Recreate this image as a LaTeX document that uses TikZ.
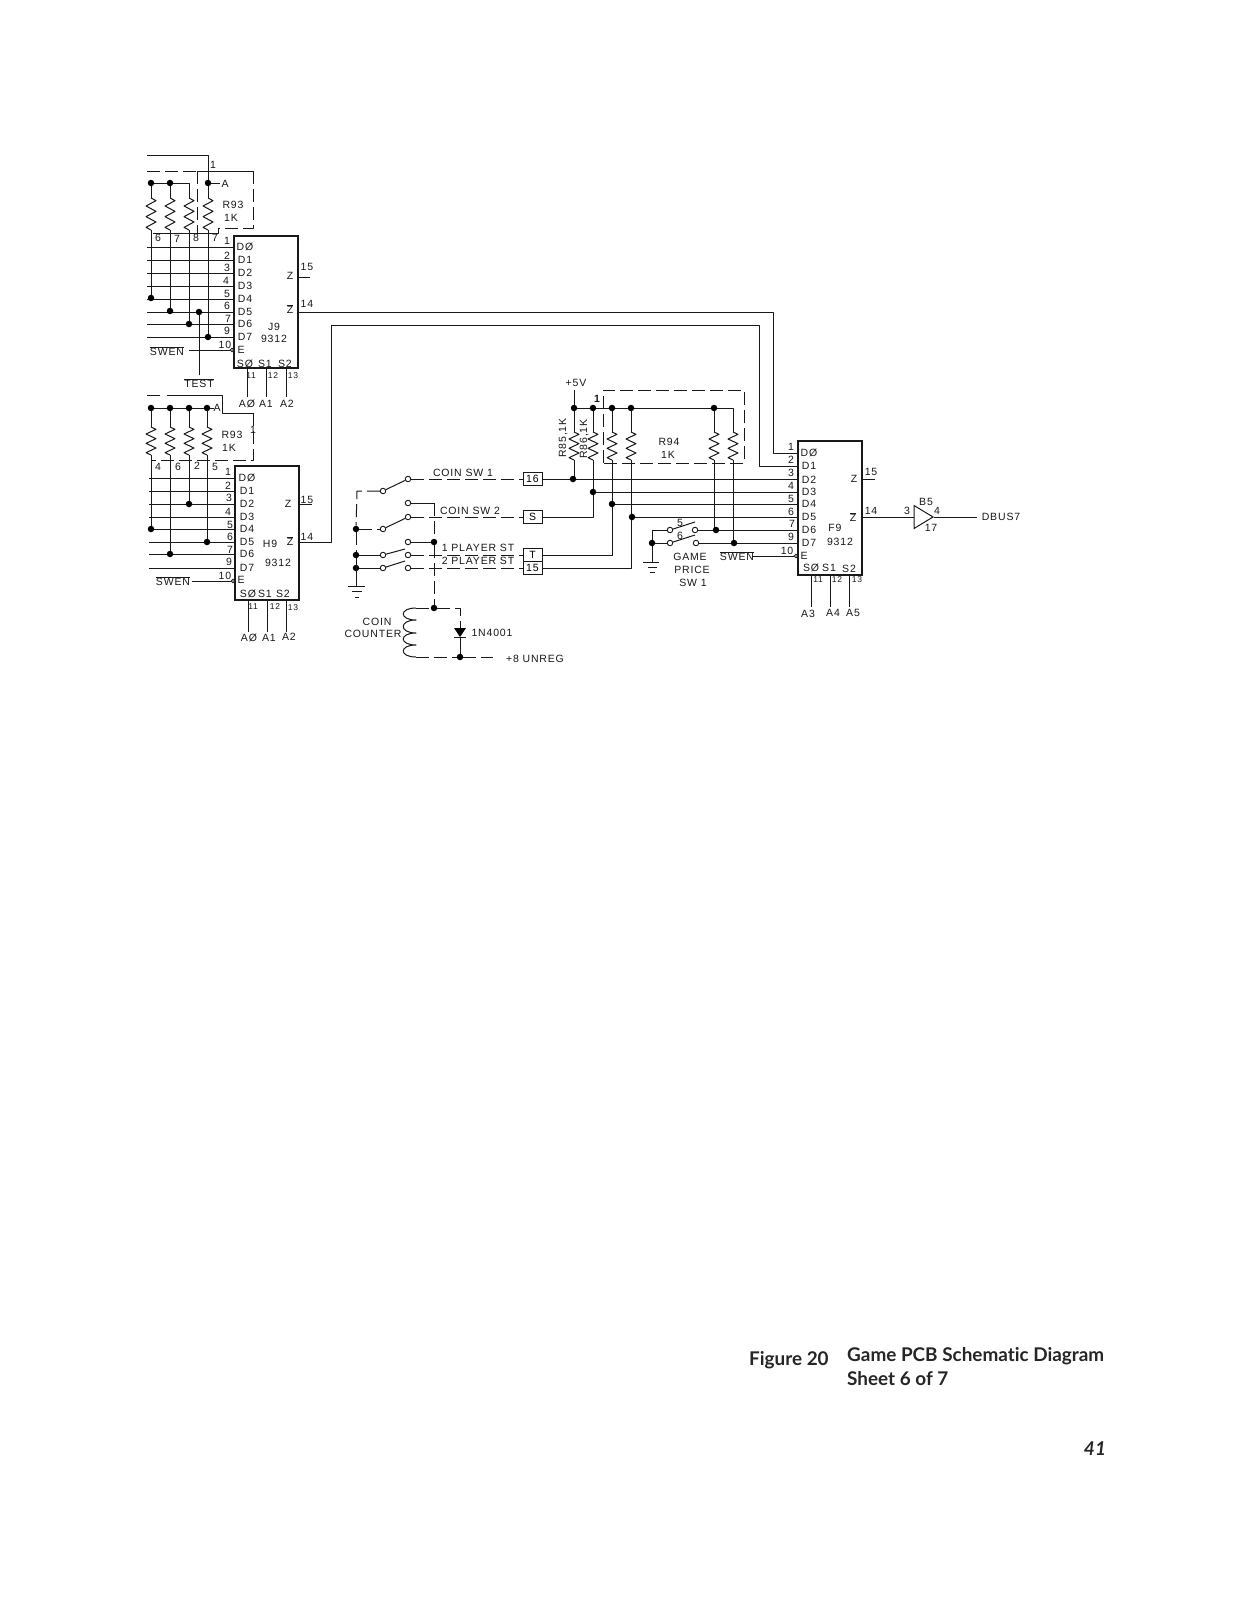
\documentclass[tikz,border=0pt]{standalone}
\usepackage{fontspec}
\usetikzlibrary{shapes.geometric}
\setmainfont[LetterSpace=8]{Liberation Sans}
\newfontfamily\capfont[Ligatures=NoCommon]{Lato}
\newcommand{\barred}[1]{$\overline{\hbox{#1}}$}
\newcommand{\zigres}[3]{%
  \pgfmathsetmacro{\hh}{(#3-#2)/12}%
  \draw[wire] (#1,#2) -- ++(5,\hh) -- ++(-10,2*\hh) -- ++(10,2*\hh) -- ++(-10,2*\hh) -- ++(10,2*\hh) -- ++(-10,2*\hh) -- ++(5,\hh);}
\tikzset{
  wire/.style={line width=1pt,draw=black!90,line join=round},
  dashw/.style={wire,dash pattern=on 13pt off 5pt},
  chip/.style={draw=black!90,line width=1.1pt,rectangle,inner sep=0pt,fill=none},
  dot/.style={circle,fill=black,draw=none,minimum size=6.5pt,inner sep=0pt},
  cont/.style={circle,draw=black!90,line width=.9pt,fill=white,minimum size=5.5pt,inner sep=0pt},
  bubble/.style={circle,draw=black!90,line width=.8pt,fill=white,minimum size=3.5pt,inner sep=0pt},
  tag/.style={draw=black!90,line width=1pt,rectangle,inner sep=0pt,minimum width=19pt,minimum height=13pt,font=\fontsize{10.5}{10}\selectfont},
  lab/.style={inner sep=0pt,font=\fontsize{10.5}{10}\selectfont,text=black!90},
  sml/.style={lab,font=\fontsize{8.5}{8}\selectfont},
  capt/.style={inner sep=0pt,anchor=base west,font=\capfont\bfseries\fontsize{18.9}{20}\selectfont,text=black!85},
}
\begin{document}
\begin{tikzpicture}[x=1pt,y=-1pt]
\useasboundingbox[fill=white] (0,0) rectangle (1237,1600);
% chips
\node[chip,minimum width=64pt,minimum height=132pt] (J9) at (266,302) {};
\node[chip,minimum width=64pt,minimum height=134pt] (H9) at (267,533) {};
\node[chip,minimum width=64pt,minimum height=134pt] (F9) at (830,508) {};
% J9 pins
\foreach \y in {247,260,273,286,299,312,324,337} \draw[wire] (147,\y) -- (J9.west |- 0,\y);
\node[bubble] (bJ) at (232,350) {};
\draw[wire] (189,350) -- (bJ);
\draw[wire] (J9.east |- 0,277) -- (310,277);
\foreach \x in {247,266,286} \draw[wire] (J9.south -| \x,0) -- (\x,397);
% H9 pins
\foreach \y in {478,491,504,517,529,542,554,568} \draw[wire] (149,\y) -- (H9.west |- 0,\y);
\node[bubble] (bH) at (233,581) {};
\draw[wire] (192,581) -- (bH);
\draw[wire] (H9.east |- 0,504) -- (312,504);
\foreach \x in {248,267,286} \draw[wire] (H9.south -| \x,0) -- (\x,632);
% F9 pins and links
\node[bubble] (bF) at (796,556) {};
\draw[wire] (752,556) -- (bF);
\draw[wire] (J9.east |- 0,312) -- (773,312) -- (773,453) -- (F9.west |- 0,453);
\draw[wire] (H9.east |- 0,542) -- (331,542) -- (331,325) -- (759,325) -- (759,466) -- (F9.west |- 0,466);
\draw[wire] (F9.east |- 0,479) -- (875,479);
\foreach \x in {811,830,849} \draw[wire] (F9.south -| \x,0) -- (\x,607);
% buffer
\node[draw=black!90,line width=1pt,fill=white,isosceles triangle,isosceles triangle stretches,inner sep=0pt,minimum height=19pt,minimum width=23pt] (B5) at (920.5,517) {};
\draw[wire] (F9.east |- 0,517) -- (B5.west);
\coordinate (bout) at (977,517);
\draw[wire] (B5.east) -- (bout);
% J9 resistor pack
\draw[wire] (147,155) -- (208,155) -- (208,198);
\draw[wire] (151,183) -- (189,183) -- (189,198);
\draw[wire] (151,183) -- (151,198) (170,183) -- (170,198);
\draw[wire] (208,183) -- (220,183);
\foreach \x in {151,170,189,208} \zigres{\x}{198}{230};
\draw[wire] (151,230) -- (151,298) (170,230) -- (170,311) (189,230) -- (189,324) (208,230) -- (208,337);
\draw[wire] (199,312) -- (199,375);
\draw[dashw] (147,171) -- (197,171);
\draw[wire] (197,171) -- (253,171);
\draw[dashw] (253,171) -- (253,228) -- (218,228);
\draw[wire] (218,228) -- (218,233) -- (153,233);
\draw[dashw] (197,171) -- (197,233);
% H9 resistor pack
\draw[dashw] (147,395) -- (165,395);
\draw[wire] (167,395) -- (222,395) -- (222,413) -- (253,413);
\draw[dashw] (253,413) -- (253,460) -- (152,460);
\draw[wire] (151,408) -- (214,408);
\foreach \x in {151,170,189,207} {\draw[wire] (\x,408) -- (\x,427); \zigres{\x}{427}{455};}
\draw[wire] (151,455) -- (151,529) (170,455) -- (170,554) (189,455) -- (189,504) (207,455) -- (207,542);
% switches
\node[cont] (s1a) at (408,479) {};
\node[cont] (s1p) at (383,491) {};
\node[cont] (s2a) at (408,503) {};
\node[cont] (s2b) at (408,517) {};
\node[cont] (s2p) at (383,529) {};
\node[cont] (s3a) at (408,542) {};
\node[cont] (s3b) at (408,555) {};
\node[cont] (s3c) at (408,568) {};
\node[cont] (s3p) at (383,555) {};
\node[cont] (s4p) at (383,568) {};
\node[tag] (t16) at (532.5,479) {16};
\node[tag] (tS) at (532.5,517) {S};
\node[tag] (tT) at (532.5,555) {T};
\node[tag] (t15) at (532.5,568) {15};
\node[dot] (gnd) at (356,529) {};
\node[dot] (g2) at (356,555) {};
\node[dot] (g3) at (356,568) {};
\node[dot] (cnA) at (434,542) {};
\node[dot] (cnB) at (434,608) {};
\node[dot] (cnC) at (460,657) {};
\draw[wire] (s1p) -- (s1a);
\draw[wire] (s2p) -- (s2b);
\draw[wire] (s3p) -- (405,549);
\draw[wire] (s4p) -- (405,561);
\draw[dashw] (s1a) -- (t16);
\draw[dashw] (s1p) -- (357,491) -- (gnd);
\draw[dashw] (gnd) -- (s2p);
\draw[dashw] (gnd) -- (g2);
\draw[wire] (g2) -- (s3p);
\draw[wire] (g3) -- (s4p);
\draw[wire] (g2) -- (356,586);
\draw[wire] (s2a) -- (434,503);
\draw[dashw] (434,503) -- (cnA);
\draw[wire] (s3a) -- (cnA);
\draw[dashw] (cnA) -- (cnB);
\draw[dashw] (s2b) -- (tS);
\draw[dashw] (s3b) -- (tT);
\draw[dashw] (s3c) -- (t15);
\draw[wire] (348,586) -- (365,586) (352,591) -- (362,591) (355,597) -- (359,597);
% coin counter
\draw[wire] (416,608) .. controls (399,608) and (399,620) .. (416,620)
  .. controls (399,620) and (399,633) .. (416,633)
  .. controls (399,633) and (399,645) .. (416,645)
  .. controls (399,645) and (399,657) .. (416,657);
\draw[dashw] (416,608) -- (cnB);
\draw[dashw] (cnB) -- (460,608) -- (460,628);
\fill[black] (454,628) -- (466,628) -- (460,637) -- cycle;
\draw[wire] (454,637) -- (466,637) (460,637) -- (cnC);
\draw[dashw] (416,657) -- (cnC);
\draw[dashw] (cnC) -- (493,657);
% +5V pack
\draw[wire] (574,390) -- (574,408) -- (733,408) -- (733,432);
\foreach \x in {574,593,612,631,714} \draw[wire] (\x,408) -- (\x,432);
\foreach \x in {574,593,612,631,714,733} \zigres{\x}{432}{460};
\draw[wire] (574,460) -- (574,479);
\draw[wire] (593,460) -- (593,517) -- (tS);
\draw[wire] (612,460) -- (612,555) -- (tT);
\draw[wire] (631,460) -- (631,568) -- (t15);
\draw[wire] (714,460) -- (714,529) (733,460) -- (733,543);
\draw[dashw] (603,463) -- (603,390) -- (744,390) -- (744,463) -- (603,463);
% buses into F9
\draw[wire] (t16) -- (F9.west |- 0,479);
\draw[wire] (593,492) -- (F9.west |- 0,492);
\draw[wire] (612,504) -- (F9.west |- 0,504);
\draw[wire] (631,517) -- (F9.west |- 0,517);
% game price switch
\node[cont] (p1) at (670,530) {};
\node[cont] (p2) at (670,543) {};
\node[cont] (p3) at (695,530) {};
\node[cont] (p4) at (696,543) {};
\node[dot] (p0) at (652,543) {};
\draw[wire] (p1) -- (652,530) -- (p0) -- (p2);
\draw[wire] (p0) -- (652,562);
\draw[wire] (p1) -- (695,522) (p2) -- (695,535);
\draw[wire] (p3) -- (F9.west |- 0,530);
\draw[wire] (p4) -- (F9.west |- 0,543);
\draw[wire] (643,562) -- (659,562) (648,567) -- (657,567) (650,572) -- (655,572);
% dots
\foreach \x/\y in {151/183,170/183,208/183,151/298,170/311,189/324,208/337,199/312,
  151/408,170/408,189/408,207/408,151/529,170/554,189/504,207/542,
  574/408,593/408,612/408,631/408,714/408,573/479,593/492,612/504,632/517,716/530,734/543}
  \node[dot] (d\x-\y) at (\x,\y) {};
% chip pin texts
\foreach \x/\y/\t in {
  245/247/DØ,245/260/D1,245/273/D2,245/286/D3,245/299/D4,245/312/D5,245/324/D6,245/337/D7,241/350/E,
  245/364/SØ,265/364/S1,285/364/S2,290/276/Z,274/327/J9,274/339/9312,
  247/478/DØ,247/491/D1,247/504/D2,247/517/D3,247/529/D4,247/542/D5,247/554/D6,247/568/D7,241/580/E,
  248/594/SØ,265/594/S1,283/594/S2,288/504/Z,270/544/H9,278/563/9312,
  809/453/DØ,809/466/D1,809/480/D2,809/492/D3,809/504/D4,809/517/D5,809/530/D6,809/543/D7,804/556/E,
  811/568/SØ,829/568/S1,849/569/S2,854/479/Z,835/528/F9,840/542/9312}
  \node[lab] (p\x-\y) at (\x,\y) {\t};
\node[lab] (zbJ) at (290,309) {\barred{Z}};
\node[lab] (zbH) at (290,541) {\barred{Z}};
\node[lab] (zbF) at (853,517) {\barred{Z}};
% pin numbers
\foreach \x/\y/\t in {
  227/241/1,227/256/2,227/268/3,226/281/4,227/294/5,227/306/6,228/319/7,227/331/9,225/345/10,
  228/472/1,228/486/2,229/498/3,228/512/4,230/525/5,230/537/6,230/550/7,229/562/9,225/576/10,
  791/447/1,791/460/2,791/473/3,791/486/4,791/499/5,791/512/6,792/524/7,791/537/9,787/551/10,
  307/267/15,307/304/14,307/500/15,307/537/14,871/472/15,871/511/14,
  907/511/3,937/511/4,926/502/B5,931/528/17,
  158/238/6,177/239/7,196/238/8,215/238/7,158/467/4,178/467/6,197/466/2,215/467/5}
  \node[lab] (n\x-\y) at (\x,\y) {\t};
\foreach \x/\y/\t in {251/376/11,273/376/12,293/376/13,253/607/11,275/607/12,293/608/13,818/580/11,837/580/12,857/580/13}
  \node[sml] (m\x-\y) at (\x,\y) {\t};
% other labels
\foreach \x/\y/\t in {
  247/404/AØ,266/404/A1,287/404/A2,249/638/AØ,269/638/A1,289/637/A2,808/614/A3,833/613/A4,853/613/A5,
  225/184/A,217/408/A,233/205/R93,231/218/1K,232/435/R93,229/448/1K,
  576/383/+5V,669/442/R94,668/455/1K,
  463/473/{COIN SW 1},470/511/{COIN SW 2},478/548/{1 PLAYER ST},478/561/{2 PLAYER ST},
  377/622/COIN,373/634/COUNTER,492/633/1N4001,535/659/{+8 UNREG},
  690/557/GAME,692/570/PRICE,693/583/{SW 1},680/523/5,680/536/6,1001/517/DBUS7}
  \node[lab] (x\x-\y) at (\x,\y) {\t};
\node[lab] (swenJ) at (167,351) {\barred{SWEN}};
\node[lab] (swenH) at (173,581) {\barred{SWEN}};
\node[lab] (swenF) at (737,556) {\barred{SWEN}};
\node[lab] (test) at (199,383) {\barred{TEST}};
\node[lab,rotate=90] (r85) at (563,438) {R85,1K};
\node[lab,rotate=90] (r86) at (584,439) {R86,1K};
\node[lab,font=\bfseries\fontsize{10.5}{10}\selectfont] (one) at (597,399) {1};
\node[lab] (oneJ) at (213,165) {1};
\node[lab] (oneH) at (253,430) {1};
% caption
\node[capt] (figno) at (749,1365) {Figure 20};
\node[capt] (figt) at (847,1361) {Game PCB Schematic Diagram};
\node[capt] (figs) at (847,1385) {Sheet 6 of 7};
\node[inner sep=0pt,font=\capfont\bfseries\itshape\fontsize{19}{20}\selectfont,text=black!85] (page) at (1095,1449) {41};
\end{tikzpicture}
\end{document}
